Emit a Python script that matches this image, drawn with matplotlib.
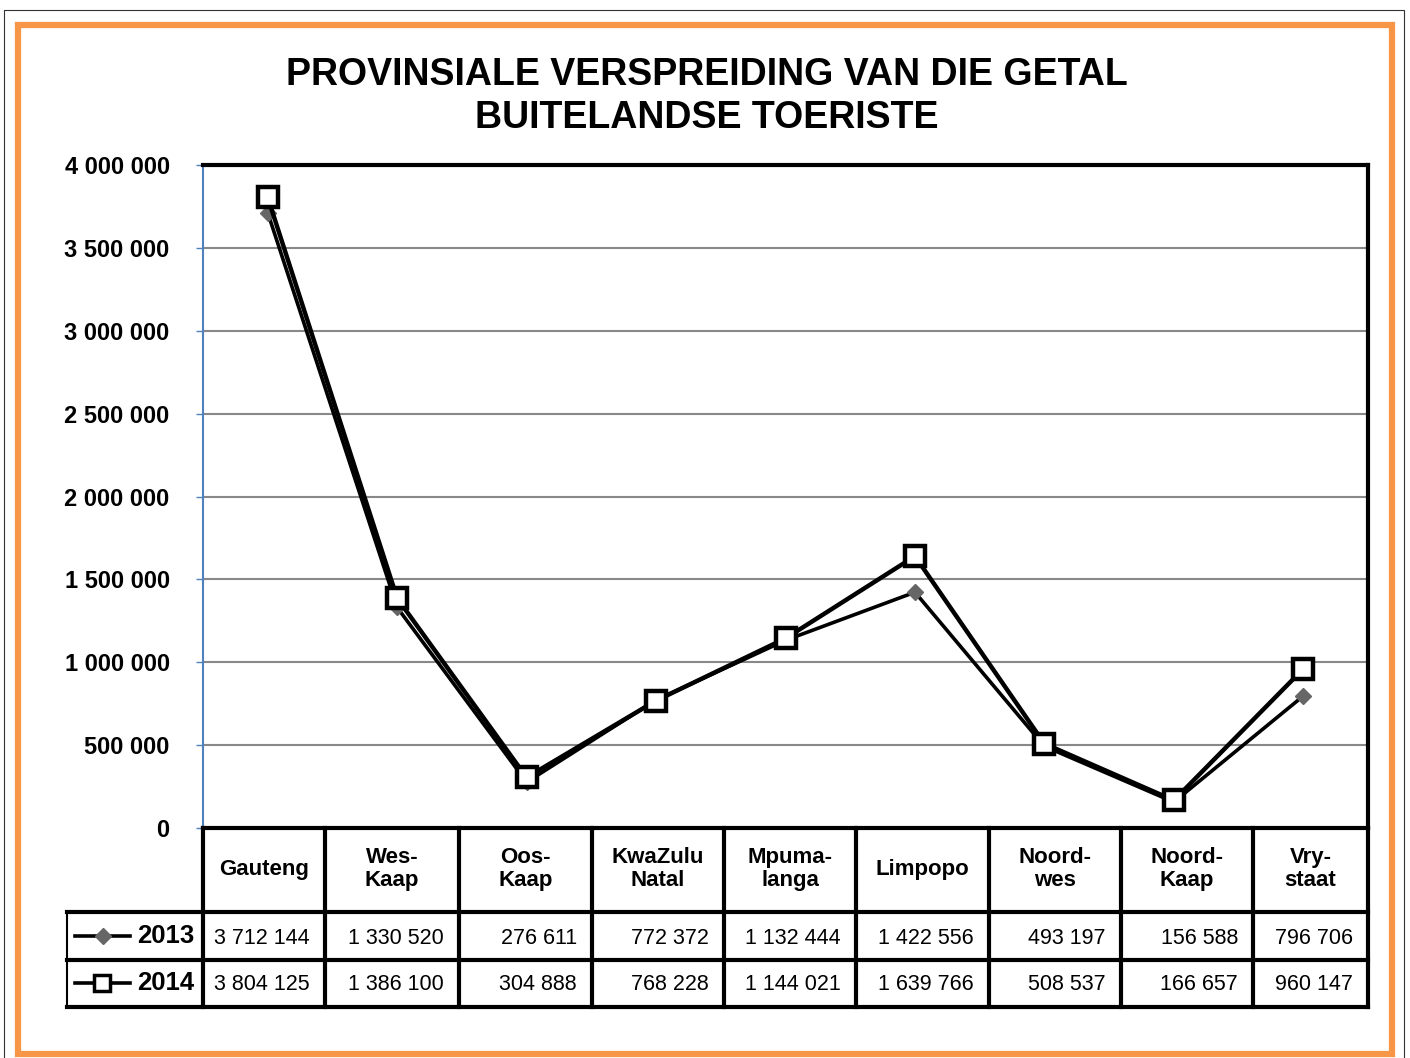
import matplotlib.pyplot as plt
from matplotlib.lines import Line2D
from matplotlib.patches import Rectangle

plt.rcParams['font.family'] = ['Liberation Sans', 'DejaVu Sans']

provinces = ['Gauteng', 'Wes-\nKaap', 'Oos-\nKaap', 'KwaZulu\nNatal', 'Mpuma-\nlanga',
             'Limpopo', 'Noord-\nwes', 'Noord-\nKaap', 'Vry-\nstaat']
tourists_2013 = [3712144, 1330520, 276611, 772372, 1132444, 1422556, 493197, 156588, 796706]
tourists_2014 = [3804125, 1386100, 304888, 768228, 1144021, 1639766, 508537, 166657, 960147]
y_ticks = [0, 500000, 1000000, 1500000, 2000000, 2500000, 3000000, 3500000, 4000000]

W, H = 1410, 1058


def fx(x):
    return x / W


def fy(y):
    return 1 - y / H


def fmt(v):
    return f'{v:,}'.replace(',', ' ')


fig = plt.figure(figsize=(W / 100, H / 100), dpi=100)

# outer frames
fig.add_artist(Line2D([fx(4), fx(4), fx(1404), fx(1404)], [fy(1058), fy(10), fy(10), fy(1058)],
                      color='#333333', lw=0.8))
fig.add_artist(Rectangle((fx(18), fy(1054)), fx(1392) - fx(18), fy(25) - fy(1054),
                         fill=False, ec='#f79646', lw=4.5))

ax_l, ax_r, ax_t, ax_b = 203, 1368, 165, 828
ax = fig.add_axes([fx(ax_l), fy(ax_b), fx(ax_r) - fx(ax_l), fy(ax_t) - fy(ax_b)])

x = list(range(len(provinces)))
ax.plot(x, tourists_2013, color='black', lw=2.6, marker='D', ms=8,
        mfc='#666666', mec='#666666', zorder=3)
ax.plot(x, tourists_2014, color='black', lw=3.2, marker='s', ms=15,
        mfc='white', mec='black', mew=3.2, zorder=4)

ax.set_xlim(-0.5, len(provinces) - 0.5)
ax.set_ylim(0, 4000000)
ax.set_yticks(y_ticks)
ax.set_yticklabels([fmt(v) for v in y_ticks], fontsize=17, fontweight='bold')
ax.set_xticks([])
ax.grid(axis='y', color='#888888', lw=1.5)
ax.set_axisbelow(True)
ax.tick_params(axis='y', length=5, width=1, color='#4f81bd', pad=19)
for s in ['top', 'right', 'bottom']:
    ax.spines[s].set_linewidth(3)
    ax.spines[s].set_color('black')
ax.spines['left'].set_color('#4f81bd')
ax.spines['left'].set_linewidth(1.5)

# title
fig.text(fx(707), fy(75), 'PROVINSIALE VERSPREIDING VAN DIE GETAL', ha='center', va='center',
         fontsize=27, fontweight='bold')
fig.text(fx(707), fy(118), 'BUITELANDSE TOERISTE', ha='center', va='center',
         fontsize=27, fontweight='bold')

# data table under the chart
cols = [203, 325, 459, 592, 724, 856, 989, 1121, 1253, 1368]
row_lines = [912, 960, 1007]
for c in cols:
    fig.add_artist(Line2D([fx(c), fx(c)], [fy(828), fy(1007)], color='black', lw=3))
for r in row_lines:
    fig.add_artist(Line2D([fx(67), fx(1368)], [fy(r), fy(r)], color='black', lw=3))
fig.add_artist(Line2D([fx(67), fx(67)], [fy(912), fy(1007)], color='black', lw=1.5))

for i, name in enumerate(provinces):
    cx = (cols[i] + cols[i + 1]) / 2
    fig.text(fx(cx), fy(869), name, ha='center', va='center', fontsize=16,
             fontweight='bold', linespacing=1.1)
    fig.text(fx(cols[i + 1] - 15), fy(938), fmt(tourists_2013[i]), ha='right', va='center',
             fontsize=15.5)
    fig.text(fx(cols[i + 1] - 15), fy(985), fmt(tourists_2014[i]), ha='right', va='center',
             fontsize=15.5)

# legend keys
fig.add_artist(Line2D([fx(75), fx(130)], [fy(936), fy(936)], color='black', lw=2.6))
fig.add_artist(Line2D([fx(103)], [fy(936)], marker='D', ms=8, mfc='#666666', mec='#666666'))
fig.add_artist(Line2D([fx(75), fx(130)], [fy(983), fy(983)], color='black', lw=2.6))
fig.add_artist(Line2D([fx(102)], [fy(983)], marker='s', ms=11, mfc='white', mec='black', mew=2.5))
fig.text(fx(166), fy(936), '2013', ha='center', va='center', fontsize=18.5, fontweight='bold')
fig.text(fx(166), fy(983), '2014', ha='center', va='center', fontsize=18.5, fontweight='bold')

fig.savefig('out.png', dpi=100)
